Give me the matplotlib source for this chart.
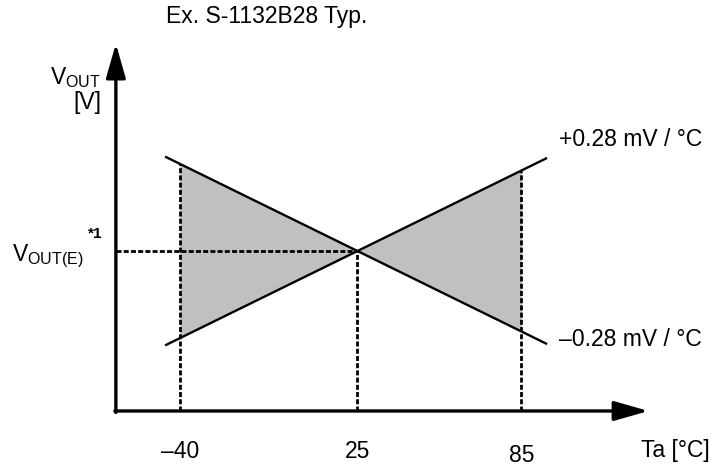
import numpy as np
import matplotlib.pyplot as plt

# data
TITLE = 'Ex. S-1132B28 Typ.'
TA_TICKS = [-40, 25, 85]
TICK_LABELS = ['–40', '25', '85']
TA_REF = 25
TA_LINE = [-45, 94]          # extent of the drawn lines
VOUT_E = 2.8                 # V
COEFFS = [0.28, -0.28]       # mV / °C
COEFF_LABELS = ['+0.28 mV / °C', '–0.28 mV / °C']

plt.rcParams['font.family'] = ['Liberation Sans', 'DejaVu Sans']
plt.rcParams['mathtext.fontset'] = 'custom'
plt.rcParams['mathtext.rm'] = 'Liberation Sans'
plt.rcParams['mathtext.bf'] = 'Liberation Sans:bold'

W, H = 719, 468


def vout(ta, k):
    return VOUT_E + k * (np.asarray(ta, dtype=float) - TA_REF) / 1000.0


def P(x, y):
    # pixel (from top-left) -> axes fraction
    return x / W, 1 - y / H


fig = plt.figure(figsize=(W / 100, H / 100), dpi=100)
ax = fig.add_axes([0, 0, 1, 1])
ax.set_xlim(-105.8, 157.3)
ax.set_ylim(2.7547, 2.8524)
ax.axis('off')

x0, y0 = -63.4, 2.7666       # axis origin
x_tip, y_tip = 131.5, 2.8433

# shaded regions
for a, b in [(TA_TICKS[0], TA_REF), (TA_REF, TA_TICKS[2])]:
    xs = np.array([a, b])
    ax.fill_between(xs, vout(xs, COEFFS[0]), vout(xs, COEFFS[1]),
                    color='#c0c0c0', lw=0, zorder=1)

# temperature coefficient lines
for k in COEFFS:
    ax.plot(TA_LINE, vout(TA_LINE, k), color='k', lw=1.7, zorder=3)

# dashed guides
dash = dict(color='k', lw=2.0, dashes=(1.8, 0.8), zorder=2)
for t in TA_TICKS:
    top = max(vout(t, COEFFS[0]), vout(t, COEFFS[1]))
    ax.plot([t, t], [y0, top], **dash)
ax.plot([x0, TA_REF], [VOUT_E, VOUT_E], **dash)

# axes with arrows
arr = dict(arrowstyle='-|>,head_length=1.05,head_width=0.3', lw=2.4,
           color='k', mutation_scale=20, shrinkA=0, shrinkB=0)
ax.annotate('', xy=(x_tip, y0), xytext=(x0 - 0.4, y0), arrowprops=arr, zorder=4)
ax.annotate('', xy=(x0, y_tip), xytext=(x0, y0 - 0.0003), arrowprops=arr, zorder=4)

# texts
fs = 16.5
ax.text(*P(166, 17), TITLE, transform=ax.transAxes, fontsize=fs,
        ha='left', va='center')
ax.text(*P(101, 78), r'V$_{\mathrm{OUT}}$', transform=ax.transAxes,
        fontsize=fs, ha='right', va='center')
ax.text(*P(101, 102), '[V]', transform=ax.transAxes, fontsize=fs,
        ha='right', va='center')
ax.text(*P(12, 256), r'V$_{\mathrm{OUT(E)}}$', transform=ax.transAxes,
        fontsize=fs, ha='left', va='center')
ax.text(*P(88, 234), '*1', transform=ax.transAxes, fontsize=11,
        fontweight='bold', ha='left', va='center')

ax.text(*P(559, 140), COEFF_LABELS[0], transform=ax.transAxes, fontsize=fs,
        ha='left', va='center')
ax.text(*P(559, 340), COEFF_LABELS[1], transform=ax.transAxes, fontsize=fs,
        ha='left', va='center')

for t, lab in zip(TA_TICKS, TICK_LABELS):
    yy = 455 if t == 85 else 451
    ax.text(t, P(0, yy)[1], lab, transform=ax.get_xaxis_transform(),
            fontsize=fs, ha='center', va='center')
ax.text(*P(641, 451), 'Ta [°C]', transform=ax.transAxes, fontsize=fs,
        ha='left', va='center')

fig.savefig('out.png', dpi=100)
